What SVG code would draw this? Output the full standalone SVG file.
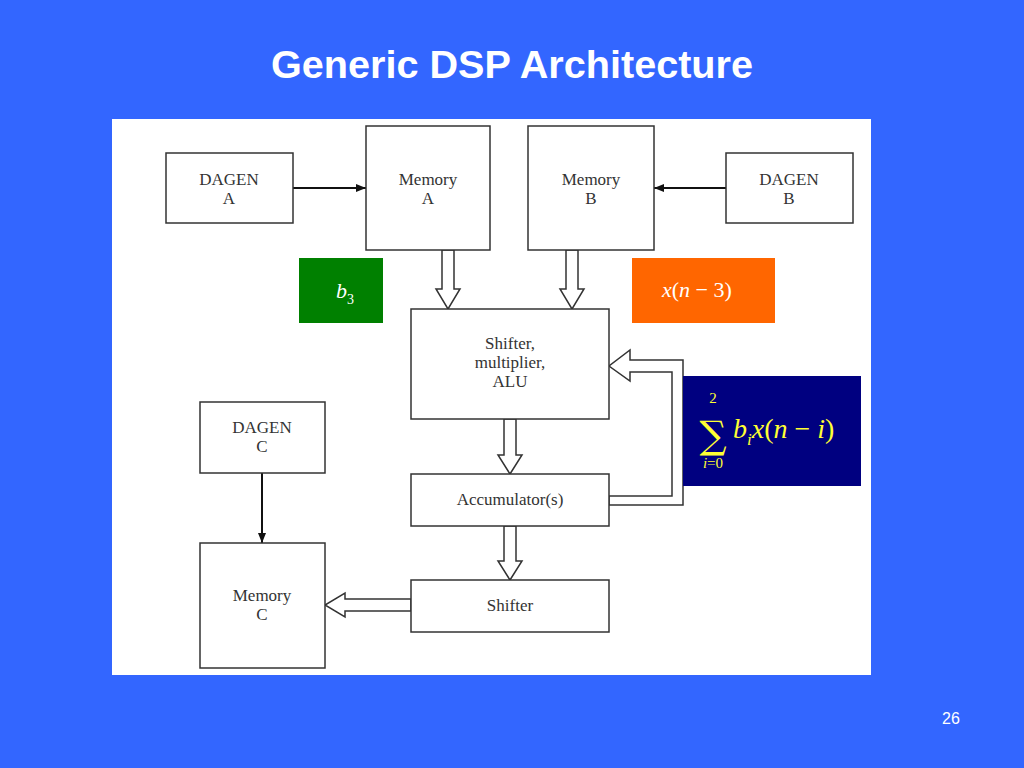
<svg xmlns="http://www.w3.org/2000/svg" width="1024" height="768" viewBox="0 0 1024 768">
<style>
.b{fill:#fff;stroke:#333;stroke-width:1.5}
.t{font-family:"Liberation Serif",serif;font-size:17px;fill:#333;text-anchor:middle}
.h{fill:#fff;stroke:#333;stroke-width:1.5;stroke-linejoin:miter}
</style>
<defs><marker id="a" markerWidth="10" markerHeight="8" refX="10" refY="4" orient="auto" markerUnits="userSpaceOnUse"><path d="M0,0L10,4L0,8z" fill="#111"/></marker></defs>
<rect width="1024" height="768" fill="#3366ff"/>
<text x="512" y="78" font-family="Liberation Sans,Arial,sans-serif" font-weight="bold" font-size="38" fill="#fff" text-anchor="middle" textLength="482" lengthAdjust="spacingAndGlyphs">Generic DSP Architecture</text>
<rect x="112" y="119" width="759" height="556" fill="#fff"/>
<g id="connectors">
<line x1="293" y1="188" x2="366" y2="188" stroke="#111" stroke-width="2" marker-end="url(#a)"/>
<line x1="726" y1="188" x2="654" y2="188" stroke="#111" stroke-width="2" marker-end="url(#a)"/>
<line x1="262" y1="473" x2="262" y2="543" stroke="#111" stroke-width="2" marker-end="url(#a)"/>
<polygon class="h" points="442,250 454,250 454,289 460,289 448,309 436,289 442,289"/>
<polygon class="h" points="566,250 578,250 578,289 584,289 572,309 560,289 566,289"/>
<polygon class="h" points="504,419 516,419 516,455 522,455 510,474 498,455 504,455"/>
<polygon class="h" points="504,526 516,526 516,561 522,561 510,580 498,561 504,561"/>
<polygon class="h" points="411,599 411,611 345,611 345,617 325,605 345,593 345,599"/>
<polygon class="h" points="609,496 672,496 672,372 630,372 630,381 609,366 630,350 630,360 683,360 683,505 609,505"/>
</g>
<g id="dagenA"><rect class="b" x="166" y="153" width="127" height="70"/><text class="t" x="229" y="185">DAGEN</text><text class="t" x="229" y="204">A</text></g>
<g id="memA"><rect class="b" x="366" y="126" width="124" height="124"/><text class="t" x="428" y="185">Memory</text><text class="t" x="428" y="204">A</text></g>
<g id="memB"><rect class="b" x="528" y="126" width="126" height="124"/><text class="t" x="591" y="185">Memory</text><text class="t" x="591" y="204">B</text></g>
<g id="dagenB"><rect class="b" x="726" y="153" width="127" height="70"/><text class="t" x="789" y="185">DAGEN</text><text class="t" x="789" y="204">B</text></g>
<g id="alu"><rect class="b" x="411" y="309" width="198" height="110"/><text class="t" x="510" y="349">Shifter,</text><text class="t" x="510" y="368">multiplier,</text><text class="t" x="510" y="387">ALU</text></g>
<g id="acc"><rect class="b" x="411" y="474" width="198" height="52"/><text class="t" x="510" y="505">Accumulator(s)</text></g>
<g id="shifter"><rect class="b" x="411" y="580" width="198" height="52"/><text class="t" x="510" y="611">Shifter</text></g>
<g id="dagenC"><rect class="b" x="200" y="402" width="125" height="71"/><text class="t" x="262" y="433">DAGEN</text><text class="t" x="262" y="452">C</text></g>
<g id="memC"><rect class="b" x="200" y="543" width="125" height="125"/><text class="t" x="262" y="601">Memory</text><text class="t" x="262" y="620">C</text></g>
<g id="b3"><rect x="299" y="258" width="84" height="65" fill="#008000"/><text x="336" y="298" font-family="Liberation Serif,serif" font-style="italic" font-size="22" fill="#fff">b<tspan font-size="14" font-style="normal" dy="6">3</tspan></text></g>
<g id="xn3"><rect x="632" y="258" width="143" height="65" fill="#ff6600"/><text x="662" y="297" font-family="Liberation Serif,serif" font-size="22" fill="#fff"><tspan font-style="italic">x</tspan>(<tspan font-style="italic">n</tspan> − 3)</text></g>
<g id="sum"><rect x="683" y="376" width="178" height="110" fill="#000080"/>
<text x="713" y="403" font-family="Liberation Serif,serif" font-size="15" fill="#ffff33" text-anchor="middle">2</text>
<text x="713" y="448" font-family="DejaVu Serif,serif" font-size="38" fill="#ffff33" text-anchor="middle">∑</text>
<text x="713" y="468" font-family="Liberation Serif,serif" font-size="15" fill="#ffff33" text-anchor="middle"><tspan font-style="italic">i</tspan>=0</text>
<text x="733" y="438" font-family="Liberation Serif,serif" font-size="28" fill="#ffff33"><tspan font-style="italic">b</tspan><tspan font-style="italic" font-size="17" dy="7">i</tspan><tspan font-style="italic" dy="-7">x</tspan>(<tspan font-style="italic">n</tspan> − <tspan font-style="italic">i</tspan>)</text></g>
<text x="951" y="724" font-family="Liberation Sans,Arial,sans-serif" font-size="16" fill="#fff" text-anchor="middle">26</text>
</svg>
